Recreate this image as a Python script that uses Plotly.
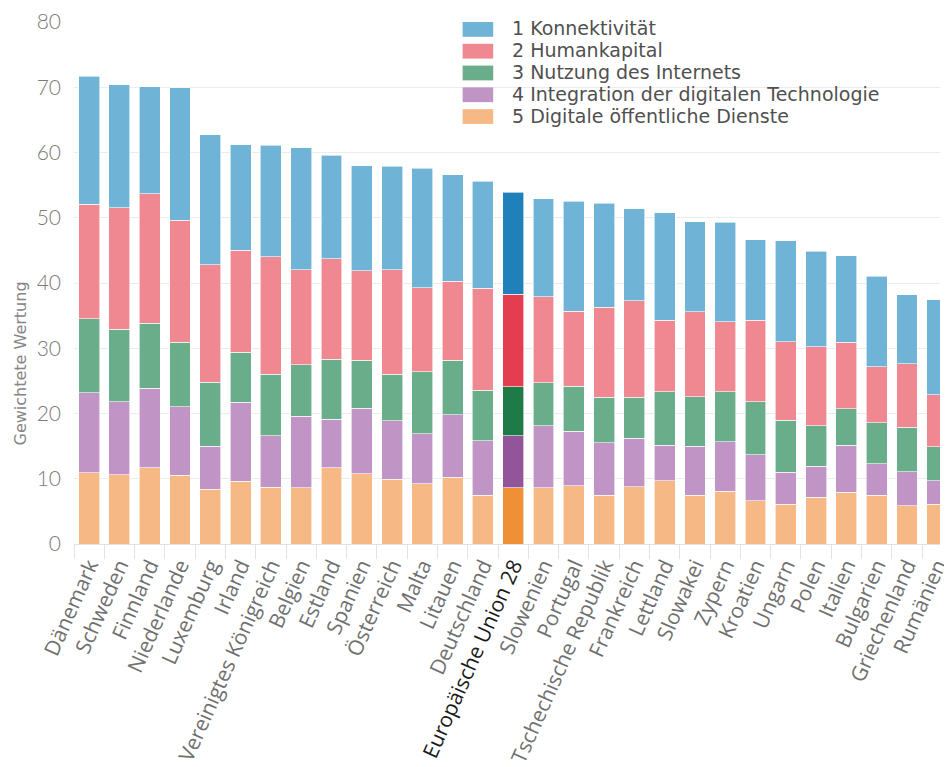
import plotly.graph_objects as go

countries = ["Dänemark", "Schweden", "Finnland", "Niederlande", "Luxemburg", "Irland",
             "Vereinigtes Königreich", "Belgien", "Estland", "Spanien", "Österreich", "Malta",
             "Litauen", "Deutschland", "Europäische Union 28", "Slowenien", "Portugal",
             "Tschechische Republik", "Frankreich", "Lettland", "Slowakei", "Zypern", "Kroatien",
             "Ungarn", "Polen", "Italien", "Bulgarien", "Griechenland", "Rumänien"]

oeffentliche_dienste = [10.9, 10.6, 11.7, 10.5, 8.4, 9.6, 8.7, 8.6, 11.7, 10.8, 9.9, 9.2, 10.2, 7.5,
                        8.6, 8.6, 8.9, 7.5, 8.8, 9.7, 7.5, 8.1, 6.6, 6.1, 7.2, 7.9, 7.5, 5.9, 6.1]
integration = [12.3, 11.2, 12.2, 10.5, 6.6, 12.1, 7.9, 11.0, 7.4, 10.0, 9.0, 7.7, 9.6, 8.3,
               8.0, 9.5, 8.4, 8.0, 7.4, 5.4, 7.5, 7.6, 7.1, 4.9, 4.7, 7.2, 4.8, 5.2, 3.6]
nutzung = [11.3, 11.1, 9.9, 9.9, 9.8, 7.7, 9.4, 7.9, 9.2, 7.4, 7.1, 9.5, 8.4, 7.8,
           7.5, 6.6, 6.9, 7.0, 6.3, 8.2, 7.6, 7.6, 8.1, 8.0, 6.2, 5.6, 6.3, 6.8, 5.2]
humankapital = [17.6, 18.6, 19.9, 18.7, 18.0, 15.6, 18.0, 14.5, 15.4, 13.7, 16.0, 12.9, 12.1, 15.6,
                14.2, 13.2, 11.5, 13.8, 14.8, 11.0, 13.0, 10.8, 12.5, 12.0, 12.1, 10.2, 8.6, 9.7, 8.0]
konnektivitaet = [19.6, 18.9, 16.4, 20.3, 19.9, 16.2, 17.1, 18.7, 15.9, 16.1, 15.9, 18.3, 16.3, 16.4,
                  15.6, 15.0, 16.8, 15.9, 14.1, 16.5, 13.8, 15.2, 12.3, 15.5, 14.7, 13.3, 13.8, 10.6, 14.5]

series_names = ["1 Konnektivität", "2 Humankapital", "3 Nutzung des Internets",
                "4 Integration der digitalen Technologie", "5 Digitale öffentliche Dienste"]
y_ticks = [0, 10, 20, 30, 40, 50, 60, 70, 80]
highlight = "Europäische Union 28"

# (series values, name, normal colour, highlight colour), bottom to top of the stack
stack = [
    (oeffentliche_dienste, series_names[4], "#f6b985", "#ef8f36"),
    (integration, series_names[3], "#c194c6", "#93559a"),
    (nutzung, series_names[2], "#6aad8b", "#1e7b47"),
    (humankapital, series_names[1], "#ef8891", "#e53d50"),
    (konnektivitaet, series_names[0], "#6fb3d7", "#1f80ba"),
]

W, H = 944, 759
ML, MR, MT, MB = 66, 0, 11, 218.5
PW, PH = W - ML - MR, H - MT - MB

fig = go.Figure()
for vals, name, col, hcol in stack:
    colors = [hcol if c == highlight else col for c in countries]
    fig.add_trace(go.Bar(
        x=countries, y=vals, name=name, showlegend=False,
        marker=dict(color=colors, line=dict(color="rgba(255,255,255,0.75)", width=0.8)),
    ))

# legend drawn as swatches + text (larger swatches than the built-in legend)
def px_x(p):
    return p / PW

def px_y(p):
    return 1 - p / PH

legend_items = list(reversed(stack))
row0, row_gap = 7.5, 22.1
for i, (_, name, col, _) in enumerate(legend_items):
    cy = row0 + i * row_gap
    fig.add_shape(type="rect", xref="paper", yref="paper",
                  x0=px_x(394), x1=px_x(425), y0=px_y(cy - 7.5), y1=px_y(cy + 7.5),
                  fillcolor=col, line=dict(width=0), layer="above")
    fig.add_annotation(text=name, xref="paper", yref="paper", x=px_x(442), y=px_y(cy - 1),
                       xanchor="left", yanchor="middle", showarrow=False,
                       font=dict(family="DejaVu Sans", size=19, color="#505050"))

ticktext = ['<span style="color:#1a1a1a">%s</span>' % c if c == highlight else c for c in countries]

fig.update_layout(
    width=W, height=H,
    barmode="stack", bargap=0.31,
    plot_bgcolor="white", paper_bgcolor="white",
    margin=dict(l=ML, r=MR, t=MT, b=MB),
    font=dict(family="Open Sans", color="#6e6e6e"),
    showlegend=False,
    xaxis=dict(
        range=[-0.5, 28.09],
        tickmode="array", tickvals=countries, ticktext=ticktext,
        tickangle=-66,
        tickfont=dict(family="Open Sans", size=21, color="#707070"),
        ticks="outside", tickson="boundaries", ticklen=14, tickcolor="#e3e3e3", tickwidth=1,
        showline=True, linecolor="#e3e3e3", linewidth=1,
        showgrid=False,
    ),
    yaxis=dict(
        range=[0, 80], tickvals=y_ticks,
        tickfont=dict(family="Lato", size=21, color="#7a7a7a", weight=300),
        ticklabeloverflow="allow",
        showgrid=True, gridcolor="#ececec", gridwidth=1,
        zeroline=False, showline=False,
        ticklabelstandoff=12,
    ),
)

fig.add_annotation(
    text="Gewichtete Wertung", textangle=-90,
    xref="paper", yref="y", x=(11.5 - ML) / PW, y=27.7,
    xanchor="center", yanchor="middle", showarrow=False,
    font=dict(family="DejaVu Sans", size=16, color="#858585"),
)

fig.write_html("out.html")
